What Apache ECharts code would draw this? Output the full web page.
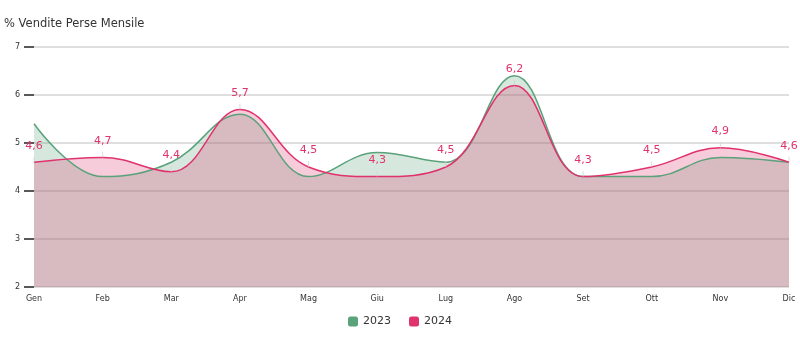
<!DOCTYPE html>
<html>
<head>
<meta charset="utf-8">
<script src="https://cdn.jsdelivr.net/npm/echarts@6/dist/echarts.min.js"></script>
<style>html,body{margin:0;padding:0;background:#fff}#c{width:800px;height:345px}</style>
</head>
<body>
<div id="c"></div>
<script>
var titleText = '% Vendite Perse Mensile';
var categories = ['Gen','Feb','Mar','Apr','Mag','Giu','Lug','Ago','Set','Ott','Nov','Dic'];
var seriesNames = ['2023','2024'];
var values2023 = [5.4, 4.3, 4.6, 5.6, 4.3, 4.8, 4.6, 6.4, 4.3, 4.3, 4.7, 4.6];
var values2024 = [4.6, 4.7, 4.4, 5.7, 4.5, 4.3, 4.5, 6.2, 4.3, 4.5, 4.9, 4.6];
var yMin = 2, yMax = 7, yStep = 1;

var green = '#5aa27a', pink = '#e0336d';
var font = 'DejaVu Sans';
var chart = echarts.init(document.getElementById('c'), null, {renderer: 'canvas'});
chart.setOption({
  animation: false,
  textStyle: {fontFamily: font},
  title: {text: titleText, left: 4, top: 18, padding: 0, textStyle: {fontFamily: font, fontSize: 11.5, fontWeight: 'normal', color: '#333'}},
  grid: {left: 34, right: 11, top: 47, bottom: 58},
  legend: {
    data: seriesNames, bottom: 13, left: 'center', icon: 'roundRect', itemWidth: 10, itemHeight: 10, itemGap: 18,
    textStyle: {fontFamily: font, fontSize: 11, color: '#333'}
  },
  xAxis: {
    type: 'category', data: categories, boundaryGap: false,
    axisLine: {show: false}, axisTick: {show: false},
    axisLabel: {fontFamily: font, fontSize: 8, color: '#333', margin: 8}
  },
  yAxis: {
    type: 'value', min: yMin, max: yMax, interval: yStep,
    axisLine: {show: false},
    axisTick: {show: true, length: 10, lineStyle: {color: '#222', width: 1.5}},
    axisLabel: {fontFamily: font, fontSize: 8, color: '#333', margin: 14},
    splitLine: {show: true, lineStyle: {color: '#d5d5d5', width: 1.5}}
  },
  series: [
    {
      name: seriesNames[0], type: 'line', data: values2023, smooth: 0.4,
      symbol: 'circle', symbolSize: 0.1, color: green,
      lineStyle: {color: green, width: 1.5},
      areaStyle: {color: green, opacity: 0.25},
      label: {show: false}
    },
    {
      name: seriesNames[1], type: 'line', data: values2024, smooth: 0.4,
      symbol: 'circle', symbolSize: 0.1, color: pink,
      lineStyle: {color: pink, width: 1.5},
      areaStyle: {color: pink, opacity: 0.25},
      label: {
        show: true, position: 'top', distance: 11, color: pink, fontFamily: font, fontSize: 11,
        formatter: function (p) { return String(p.value).replace('.', ','); }
      },
      labelLine: {show: true, length2: 0, lineStyle: {color: 'rgba(210,210,210,0.8)', width: 1}}
    }
  ]
});
</script>
</body>
</html>
